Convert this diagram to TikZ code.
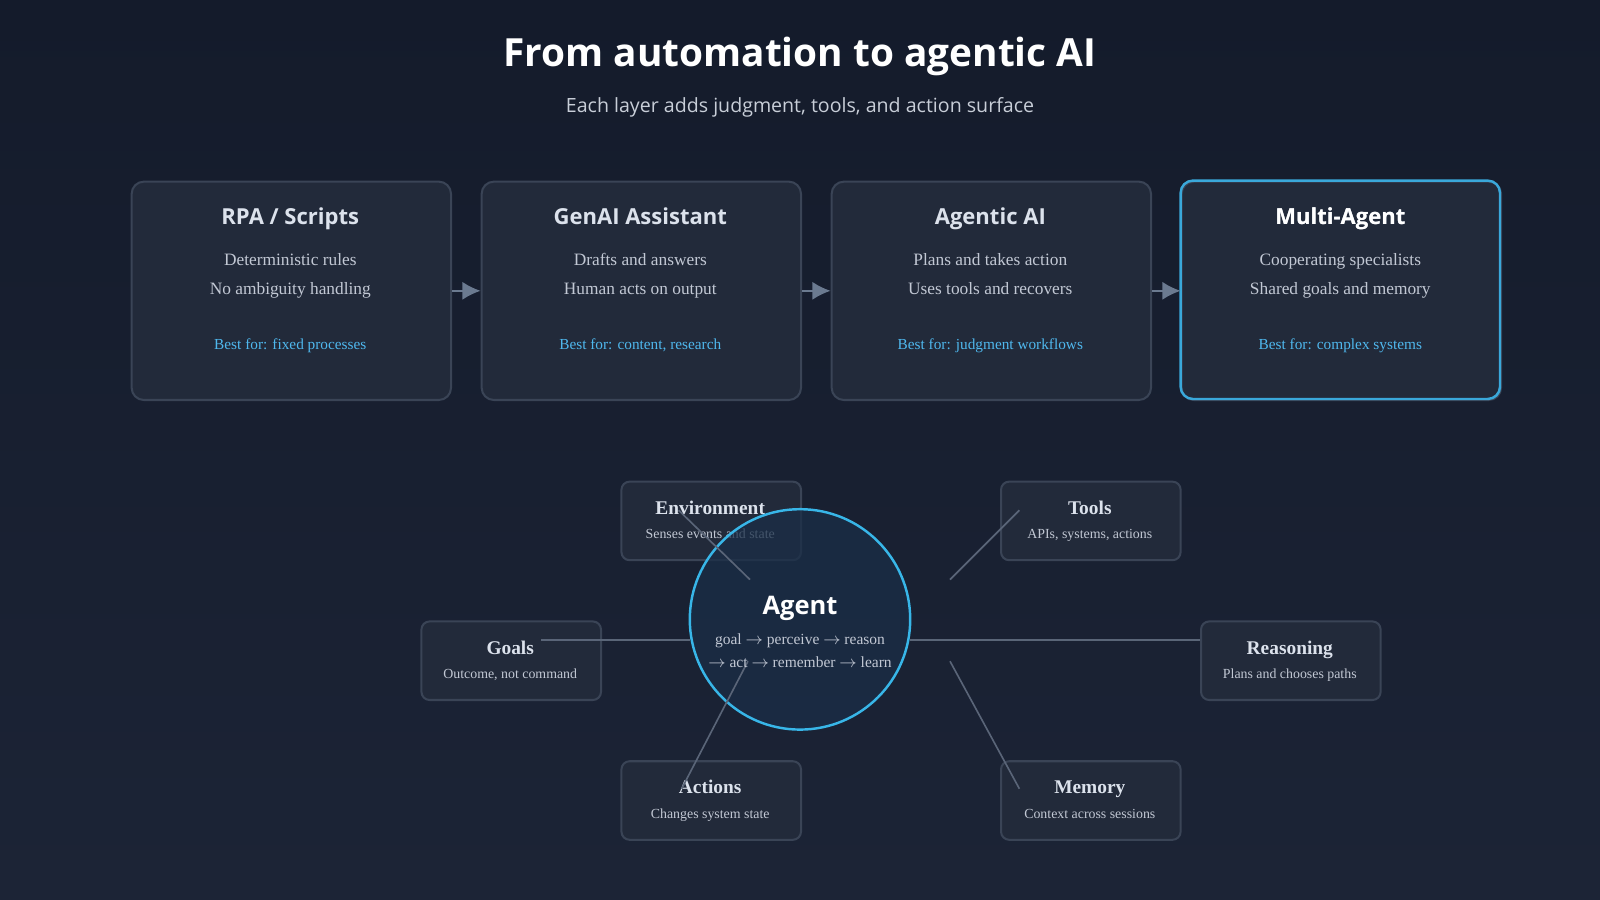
\documentclass[tikz,border=0pt]{standalone}
\usepackage{fontspec}
\usetikzlibrary{arrows.meta}
\setmainfont{Liberation Serif}
\newfontfamily\hfont{Open Sans}
\begin{document}
\definecolor{bgA}{HTML}{141B2B}
\definecolor{bgB}{HTML}{1C2436}
\definecolor{cardfill}{HTML}{222A3A}
\definecolor{cardline}{HTML}{3A4456}
\definecolor{cyanl}{HTML}{3AA8DA}
\definecolor{best}{HTML}{4FB8EE}
\definecolor{bodyc}{HTML}{C2C8D4}
\definecolor{titlec}{HTML}{DCE2EC}
\definecolor{arr}{HTML}{6B7A90}
\definecolor{conn}{HTML}{5A6578}
\definecolor{agentfill}{HTML}{1A2E47}
\definecolor{agentline}{HTML}{38B6E8}
\begin{tikzpicture}[x=0.5pt,y=-0.5pt,
  card/.style={draw=cardline,fill=cardfill,line width=1pt,rounded corners=6pt,minimum width=156.5pt,minimum height=107pt,anchor=north west,inner sep=0pt},
  sat/.style={draw=cardline,fill=cardfill,line width=1pt,rounded corners=4pt,minimum width=88pt,minimum height=38.5pt,anchor=north west,inner sep=0pt},
  ctitle/.style={font=\hfont\bfseries\fontsize{10.8}{13}\selectfont,text=titlec},
  cbody/.style={font=\fontsize{8.5}{10}\selectfont,text=bodyc},
  cbest/.style={font=\fontsize{7.5}{9}\selectfont,text=best},
  stitle/.style={font=\bfseries\fontsize{9.5}{11}\selectfont,text=titlec},
  ssub/.style={font=\fontsize{6.8}{8}\selectfont,text=bodyc},
  flow/.style={draw=arr,line width=1pt,-{Latex[length=9pt,width=9pt]}},
  link/.style={draw=conn,line width=0.8pt}]
\useasboundingbox (0,0) rectangle (1568,882);
\shade[top color=bgA,bottom color=bgB] (0,0) rectangle (1568,882);
\node[font=\hfont\bfseries\fontsize{19}{22}\selectfont,text=white] (title) at (784,55) {From automation to agentic AI};
\node[font=\hfont\fontsize{9.6}{12}\selectfont,text=bodyc!90] (sub) at (784,105) {Each layer adds judgment, tools, and action surface};
% cards
\foreach \n/\x/\t/\a/\b/\c in {c1/128/{RPA / Scripts}/Deterministic rules/No ambiguity handling/fixed processes,
  c2/471/GenAI Assistant/Drafts and answers/Human acts on output/{content, research},
  c3/814/Agentic AI/Plans and takes action/Uses tools and recovers/judgment workflows,
  c4/1157/Multi-Agent/Cooperating specialists/Shared goals and memory/complex systems}{
  \node[card] (\n) at (\x,177) {};
  \node[ctitle,anchor=base] at (\x+156.5,220) {\t};
  \node[cbody,anchor=base] at (\x+156.5,260) {\a};
  \node[cbody,anchor=base] at (\x+156.5,289) {\b};
  \node[cbest,anchor=base] at (\x+156.5,343) {Best for: \c};
}
\draw[cyanl,line width=1.2pt,rounded corners=6pt] (1157,177) rectangle (1470,391);
\node[ctitle,text=white,anchor=base] at (1313.5,220) {Multi-Agent};
\draw[flow] (c1.east) -- (c2.west);
\draw[flow] (c2.east) -- (c3.west);
\draw[flow] (c3.east) -- (c4.west);
% satellites
\foreach \n/\x/\y/\t/\s in {env/608/471/Environment/Senses events and state,
  tools/980/471/Tools/{APIs, systems, actions},
  goals/412/608/Goals/{Outcome, not command},
  reas/1176/608/Reasoning/Plans and chooses paths,
  acts/608/745/Actions/Changes system state,
  mem/980/745/Memory/Context across sessions}{
  \node[sat] (\n) at (\x,\y) {};
  \node[stitle,anchor=base] at (\x+88,\y+33) {\t};
  \node[ssub,anchor=base] at (\x+88,\y+57) {\s};
}
\node[circle,draw=agentline,line width=1.2pt,fill=agentfill,fill opacity=0.75,minimum size=108pt,inner sep=0pt] (agent) at (784,607) {};
\coordinate (e1) at (665,500); \coordinate (e2) at (735,568);
\coordinate (t1) at (999,500); \coordinate (t2) at (931,568);
\coordinate (g1) at (530,627); \coordinate (g2) at (676,627);
\coordinate (r1) at (892,627); \coordinate (r2) at (1176,627);
\coordinate (a1) at (668,773); \coordinate (a2) at (733,648);
\coordinate (m1) at (999,773); \coordinate (m2) at (931,648);
\foreach \p/\q in {e1/e2,t1/t2,g1/g2,r1/r2,a1/a2,m1/m2} \draw[link] (\p) -- (\q);
\node[font=\hfont\bfseries\fontsize{12.5}{16}\selectfont,text=white,anchor=base] (agt) at (784,602) {Agent};
\node[font=\fontsize{7.6}{9}\selectfont,text=bodyc,anchor=base] (l1) at (784,632) {goal $\rightarrow$ perceive $\rightarrow$ reason};
\node[font=\fontsize{7.6}{9}\selectfont,text=bodyc,anchor=base] (l2) at (784,654) {$\rightarrow$ act $\rightarrow$ remember $\rightarrow$ learn};
\end{tikzpicture}
\end{document}
